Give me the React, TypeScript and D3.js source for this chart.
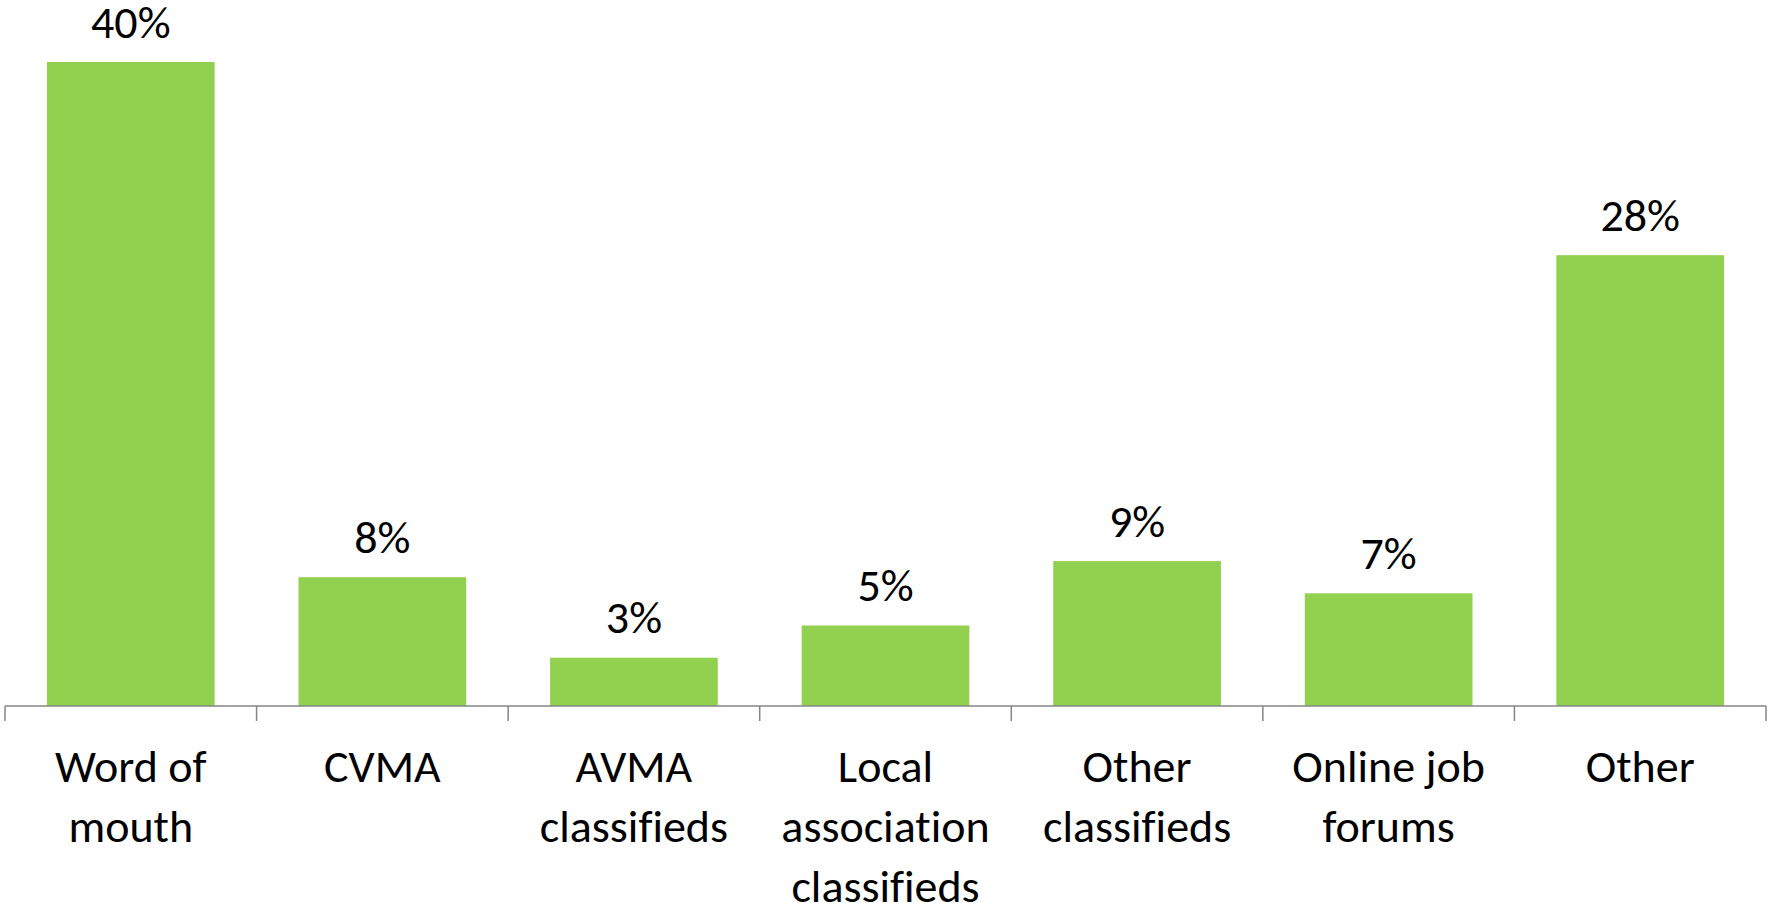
import React from "react";
import * as d3 from "d3";

const categories: string[] = [
  "Word of mouth",
  "CVMA",
  "AVMA classifieds",
  "Local association classifieds",
  "Other classifieds",
  "Online job forums",
  "Other",
];
const categoryLines: string[][] = [
  ["Word of", "mouth"],
  ["CVMA"],
  ["AVMA", "classifieds"],
  ["Local", "association", "classifieds"],
  ["Other", "classifieds"],
  ["Online job", "forums"],
  ["Other"],
];
const values: number[] = [40, 8, 3, 5, 9, 7, 28];
const valueLabels: string[] = ["40%", "8%", "3%", "5%", "9%", "7%", "28%"];

const W = 1768;
const H = 903;
const FONT = "Carlito, Calibri, Lato, 'Open Sans', sans-serif";

export default function App() {
  const x = d3
    .scaleBand<string>()
    .domain(categories)
    .range([5, 1766])
    .paddingInner(1 / 3)
    .paddingOuter(1 / 6);
  const y = d3.scaleLinear().domain([0, 40]).range([706, 62]);
  const baseY = y(0);
  const step = x.step();
  const boundaries = d3.range(categories.length + 1).map((i) => x.range()[0] + i * step);
  const textStyle = { fontVariantLigatures: "none", fontFeatureSettings: '"liga" 0, "clig" 0' } as React.CSSProperties;

  return (
    <svg
      width={W}
      height={H}
      style={{ position: "absolute", left: 0, top: 0, background: "#fff" }}
      fontFamily={FONT}
    >
      {categories.map((c, i) => (
        <rect
          key={c}
          x={x(c)}
          y={y(values[i])}
          width={x.bandwidth()}
          height={baseY - y(values[i])}
          fill="#92D050"
        />
      ))}
      <line x1={boundaries[0]} x2={boundaries[boundaries.length - 1]} y1={baseY} y2={baseY} stroke="#868686" strokeWidth={1.5} />
      {boundaries.map((b, i) => (
        <line key={i} x1={b} x2={b} y1={baseY} y2={baseY + 15} stroke="#868686" strokeWidth={1.5} />
      ))}
      {categories.map((c, i) => (
        <text
          key={"v" + c}
          x={(x(c) as number) + x.bandwidth() / 2}
          y={y(values[i]) - 24.5}
          textAnchor="middle"
          fontSize={46}
          fill="#000"
          style={textStyle}
        >
          {valueLabels[i]}
        </text>
      ))}
      {categories.map((c, i) => (
        <text
          key={"c" + c}
          x={(x(c) as number) + x.bandwidth() / 2}
          y={782}
          textAnchor="middle"
          fontSize={46}
          fill="#000"
          style={textStyle}
        >
          {categoryLines[i].map((ln, j) => (
            <tspan key={j} x={(x(c) as number) + x.bandwidth() / 2} y={782 + j * 60}>
              {ln}
            </tspan>
          ))}
        </text>
      ))}
    </svg>
  );
}
